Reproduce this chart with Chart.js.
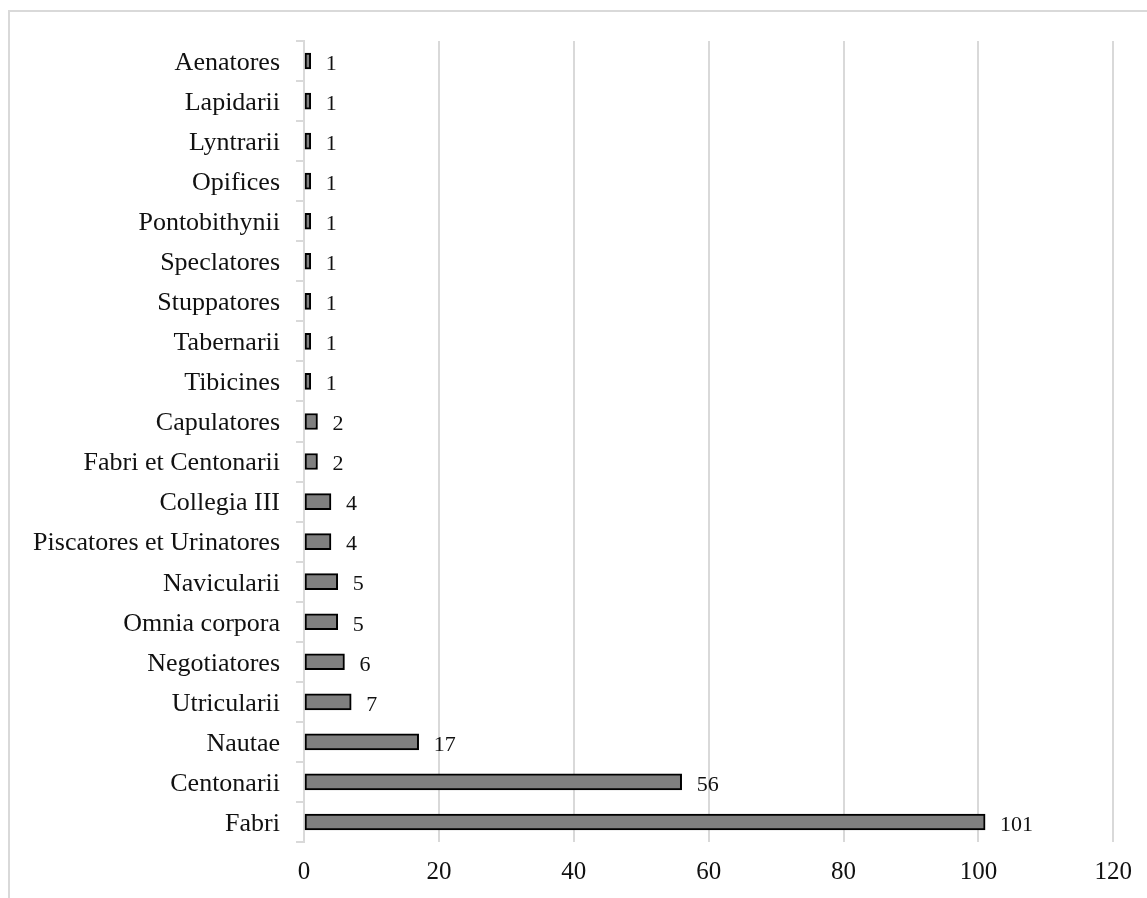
<!DOCTYPE html>
<html>
<head>
<meta charset="utf-8">
<script src="https://cdn.jsdelivr.net/npm/chart.js@4"></script>
<style>
  body { margin: 0; background: #fff; overflow: hidden; }
  #frame { position: absolute; left: 8px; top: 10px; width: 1200px; height: 1000px; border: 2px solid #d9d9d9; }
  #wrap { position: absolute; left: 0; top: 0; width: 1147px; height: 898px; }
</style>
</head>
<body>
<div id="frame"></div>
<div id="wrap"><canvas id="chart"></canvas></div>
<script>
const categories = [
    'Aenatores', 'Lapidarii', 'Lyntrarii', 'Opifices', 'Pontobithynii',
    'Speclatores', 'Stuppatores', 'Tabernarii', 'Tibicines', 'Capulatores',
    'Fabri et Centonarii', 'Collegia III', 'Piscatores et Urinatores', 'Navicularii',
    'Omnia corpora', 'Negotiatores', 'Utricularii', 'Nautae', 'Centonarii', 'Fabri'
];
const counts = [1, 1, 1, 1, 1, 1, 1, 1, 1, 2, 2, 4, 4, 5, 5, 6, 7, 17, 56, 101];
const xTicks = [0, 20, 40, 60, 80, 100, 120];

const FONT = '"Liberation Serif", "Times New Roman", serif';

// value labels at the end of each bar
const barLabels = {
    id: 'barLabels',
    afterDatasetsDraw(chart) {
        const ctx = chart.ctx;
        const meta = chart.getDatasetMeta(0);
        ctx.save();
        ctx.font = '22px ' + FONT;
        ctx.fillStyle = '#111';
        ctx.textBaseline = 'middle';
        ctx.textAlign = 'left';
        meta.data.forEach((bar, i) => {
            ctx.fillText(String(counts[i]), bar.x + 15, bar.y + 3);
        });
        ctx.restore();
    }
};

new Chart(document.getElementById('chart'), {
    type: 'bar',
    data: {
        labels: categories,
        datasets: [{
            data: counts,
            backgroundColor: '#808080',
            borderColor: '#000',
            borderWidth: 2,
            barThickness: 16,
            borderSkipped: false
        }]
    },
    options: {
        responsive: true, maintainAspectRatio: false,
        animation: false,
        indexAxis: 'y',
        layout: { padding: { left: 0, top: 41, right: 33, bottom: 0 } },
        plugins: { legend: { display: false }, tooltip: { enabled: false } },
        scales: {
            x: {
                min: xTicks[0], max: xTicks[xTicks.length - 1],
                afterBuildTicks: s => { s.ticks = xTicks.map(v => ({ value: v })); },
                afterFit: s => { s.height = 56; },
                border: { display: false },
                grid: { color: '#d9d9d9', lineWidth: 2, drawTicks: false },
                ticks: { color: '#111', padding: 15, font: { family: FONT, size: 25 } }
            },
            y: {
                afterFit: s => { s.width = 304; },
                border: { display: true, color: '#d9d9d9', width: 2 },
                grid: { drawOnChartArea: false, color: '#d9d9d9', lineWidth: 2, tickLength: 8 },
                ticks: { color: '#111', padding: 16, labelOffset: 2, font: { family: FONT, size: 26 } }
            }
        }
    },
    plugins: [barLabels]
});
</script>
</body>
</html>
